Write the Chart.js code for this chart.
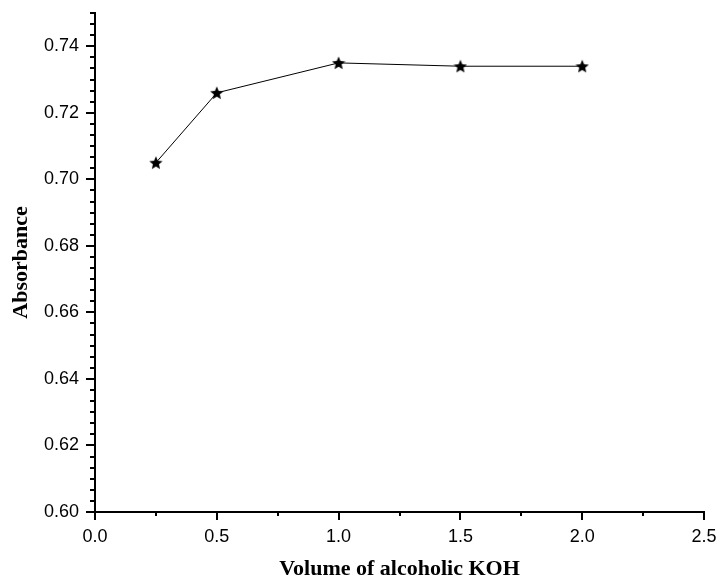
<!doctype html>
<html lang="en">
<head>
    <meta charset="utf-8">
    <title>Absorbance vs Volume of alcoholic KOH</title>
    <style>
        html, body { margin: 0; padding: 0; background: #fff; }
        #container { width: 718px; height: 579px; }
    </style>
</head>
<body>
    <div id="container">
        <canvas id="myChart" width="718" height="579"></canvas>
    </div>

    <script src="https://cdn.jsdelivr.net/npm/chart.js@4.4.1/dist/chart.umd.min.js"></script>
    <script>
        // data
        let volumes = [0.25, 0.5, 1.0, 1.5, 2.0];
        let absorbance = [0.705, 0.726, 0.735, 0.734, 0.734];

        // axis ticks
        let xTicks = [0.0, 0.5, 1.0, 1.5, 2.0, 2.5];
        let yTicks = [0.60, 0.62, 0.64, 0.66, 0.68, 0.70, 0.72, 0.74];
        let xMinorStep = 0.25;
        let yMinorStep = 0.02 / 6;

        let xMin = 0, xMax = 2.5;
        let yMin = 0.60, yMax = 0.75;

        function minorList(min, max, step) {
            let list = [];
            let n = Math.round((max - min) / step);
            for (let i = 0; i <= n; i++) list.push({ value: min + i * step });
            return list;
        }

        // filled five point star for the markers
        function makeStar(size) {
            let c = document.createElement('canvas');
            c.width = size;
            c.height = size;
            let g = c.getContext('2d');
            let cx = size / 2, cy = size / 2 + 0.6;
            let outer = size / 2, inner = outer * 0.45;
            g.beginPath();
            for (let i = 0; i < 10; i++) {
                let r = i % 2 === 0 ? outer : inner;
                let a = -Math.PI / 2 + i * Math.PI / 5;
                let px = cx + r * Math.cos(a);
                let py = cy + r * Math.sin(a);
                if (i === 0) g.moveTo(px, py); else g.lineTo(px, py);
            }
            g.closePath();
            g.fillStyle = '#000';
            g.fill();
            return c;
        }

        // keep the chart area where the layout padding puts it
        function noEdgePadding(s) {
            s.paddingLeft = 0;
            s.paddingRight = 0;
            s.paddingTop = 0;
            s.paddingBottom = 0;
        }

        let tickFont = { family: "Arial, 'Liberation Sans', sans-serif", size: 18 };
        let titleFont = { family: "'Times New Roman', 'Liberation Serif', serif", size: 22, weight: 'bold' };

        window.onload = function () {
            let ctx = document.getElementById('myChart').getContext('2d');

            let data = {
                datasets: [{
                    data: volumes.map((v, i) => ({ x: v, y: absorbance[i] })),
                    borderColor: '#000',
                    borderWidth: 1,
                    pointStyle: makeStar(14),
                    pointRadius: 7,
                    tension: 0,
                    fill: false
                }]
            };

            let options = {
                responsive: false,
                animation: false,
                layout: { padding: { top: 13, right: 14, left: 0, bottom: 0 } },
                plugins: {
                    legend: { display: false },
                    tooltip: { enabled: false }
                },
                scales: {
                    x: {
                        type: 'linear',
                        position: 'bottom',
                        weight: 1,
                        min: xMin,
                        max: xMax,
                        afterBuildTicks: s => { s.ticks = xTicks.map(v => ({ value: v })); },
                        afterFit: s => { s.height = 67; noEdgePadding(s); },
                        grid: { drawOnChartArea: false, tickLength: 8, color: '#000', lineWidth: 2 },
                        border: { display: true, color: '#000', width: 2 },
                        ticks: {
                            autoSkip: false,
                            maxRotation: 0,
                            padding: 6,
                            color: '#000',
                            font: tickFont,
                            callback: v => Number(v).toFixed(1)
                        },
                        title: {
                            display: true,
                            text: 'Volume of alcoholic KOH',
                            color: '#000',
                            font: titleFont,
                            padding: { top: 0, bottom: -4 }
                        }
                    },
                    xMinor: {
                        type: 'linear',
                        position: 'bottom',
                        weight: 0,
                        min: xMin,
                        max: xMax,
                        afterBuildTicks: s => { s.ticks = minorList(xMin, xMax, xMinorStep); },
                        afterFit: s => { s.height = 0; noEdgePadding(s); },
                        grid: { drawOnChartArea: false, tickLength: 4, color: '#000', lineWidth: 2 },
                        border: { display: false },
                        ticks: { display: false }
                    },
                    y: {
                        type: 'linear',
                        position: 'left',
                        weight: 1,
                        min: yMin,
                        max: yMax,
                        afterBuildTicks: s => { s.ticks = yTicks.map(v => ({ value: v })); },
                        afterFit: s => { s.width = 95; noEdgePadding(s); },
                        grid: { drawOnChartArea: false, tickLength: 9, color: '#000', lineWidth: 2 },
                        border: { display: true, color: '#000', width: 2 },
                        ticks: {
                            autoSkip: false,
                            padding: 7,
                            color: '#000',
                            font: tickFont,
                            callback: v => Number(v).toFixed(2)
                        },
                        title: {
                            display: true,
                            text: 'Absorbance',
                            color: '#000',
                            font: titleFont,
                            padding: { top: 8, bottom: 0 }
                        }
                    },
                    yMinor: {
                        type: 'linear',
                        position: 'left',
                        weight: 0,
                        min: yMin,
                        max: yMax,
                        afterBuildTicks: s => { s.ticks = minorList(yMin, yMax, yMinorStep); },
                        afterFit: s => { s.width = 0; noEdgePadding(s); },
                        grid: { drawOnChartArea: false, tickLength: 5, color: '#000', lineWidth: 2 },
                        border: { display: false },
                        ticks: { display: false }
                    }
                }
            };

            new Chart(ctx, { type: 'line', data: data, options: options });
        };
    </script>
</body>
</html>
